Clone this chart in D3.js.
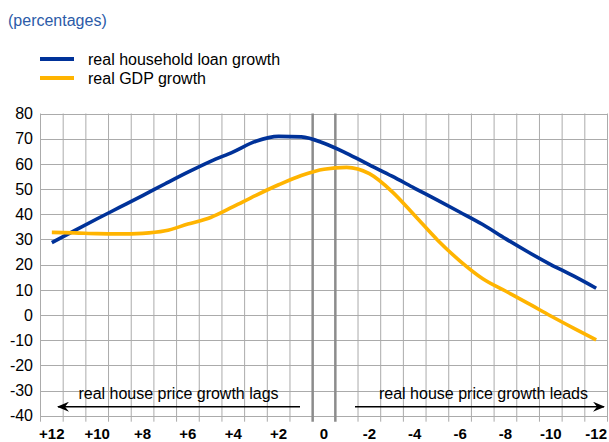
<!DOCTYPE html>
<html lang="en">
<head>
  <meta charset="UTF-8">
  <title>Household loan growth vs GDP growth</title>
  <script src="https://d3js.org/d3.v7.min.js"></script>
  <style>
    body {
      margin: 0;
      background: #fff;
      font-family: "Liberation Sans", Arial, sans-serif;
    }
    .grid line {
      stroke: #ababab;
      stroke-width: 1;
    }
    .grid line.zero {
      stroke: #8c8c8c;
      stroke-width: 2.5;
    }
    .ylab {
      font-size: 16px;
      fill: #000;
    }
    .xlab {
      font-size: 15px;
      font-weight: bold;
      fill: #000;
    }
    .legend text, .note {
      font-size: 16px;
      fill: #000;
    }
  </style>
</head>
<body>
  <div id="chart"></div>
  <script>
    // lags in quarters, +12 (house prices lag) to -12 (house prices lead)
    const lags = ["+12", "+11", "+10", "+9", "+8", "+7", "+6", "+5", "+4", "+3", "+2", "+1", "0",
                  "-1", "-2", "-3", "-4", "-5", "-6", "-7", "-8", "-9", "-10", "-11", "-12"];
    const tickLabels = ["+12", "+10", "+8", "+6", "+4", "+2", "0", "-2", "-4", "-6", "-8", "-10", "-12"];
    const loanGrowth = [28.7, 33.5, 38.2, 42.8, 47.4, 52.1, 56.7, 61.0, 64.8, 69.0, 70.9, 70.7, 68.2,
                        64.2, 59.6, 55.1, 50.3, 45.6, 40.8, 35.9, 30.3, 25.0, 20.0, 15.5, 10.6];
    const gdpGrowth = [32.8, 32.6, 32.3, 32.2, 32.4, 33.4, 36.1, 38.7, 43.0, 47.5, 51.7, 55.4, 57.9,
                       58.6, 56.1, 49.0, 39.5, 29.8, 21.4, 14.4, 9.5, 4.6, -0.4, -5.2, -9.9];
    const yTicks = [80, 70, 60, 50, 40, 30, 20, 10, 0, -10, -20, -30, -40];

    const series = [
      { name: "real household loan growth", values: loanGrowth, color: "#003299" },
      { name: "real GDP growth", values: gdpGrowth, color: "#ffb400" }
    ];

    const width = 609;
    const height = 442;
    const plot = { left: 40.5, right: 607.5, top: 113.5, bottom: 415.7 };

    const svg = d3.select("#chart")
      .append("svg")
      .attr("width", width)
      .attr("height", height);

    const x = d3.scaleBand()
      .domain(lags)
      .range([plot.left, plot.right]);

    const y = d3.scaleLinear()
      .domain([-40, 80])
      .range([plot.bottom, plot.top]);

    // title
    svg.append("text")
      .attr("x", 8)
      .attr("y", 26)
      .style("font-size", "16px")
      .style("fill", "#2b5ba8")
      .text("(percentages)");

    // legend
    const legend = svg.append("g").attr("class", "legend");
    series.forEach((s, i) => {
      const ly = 59 + i * 19;
      legend.append("line")
        .attr("x1", 40).attr("x2", 74)
        .attr("y1", ly).attr("y2", ly)
        .attr("stroke", s.color)
        .attr("stroke-width", 4);
      legend.append("text")
        .attr("x", 88)
        .attr("y", ly + 6)
        .text(s.name);
    });

    // grid
    const grid = svg.append("g").attr("class", "grid");
    const bounds = lags.map(d => x(d)).concat([x.range()[1]]);
    grid.selectAll("line.h")
      .data(yTicks)
      .join("line")
      .attr("class", "h")
      .attr("x1", plot.left).attr("x2", plot.right)
      .attr("y1", d => Math.round(y(d)) + 0.5)
      .attr("y2", d => Math.round(y(d)) + 0.5);
    grid.selectAll("line.v")
      .data(bounds)
      .join("line")
      .attr("class", (d, i) => (i === 12 || i === 13) ? "v zero" : "v")
      .attr("x1", d => d).attr("x2", d => d)
      .attr("y1", plot.top)
      .attr("y2", plot.bottom + 6);

    // y labels
    svg.append("g")
      .selectAll("text")
      .data(yTicks)
      .join("text")
      .attr("class", "ylab")
      .attr("x", 33)
      .attr("y", d => y(d))
      .attr("dy", "0.36em")
      .attr("text-anchor", "end")
      .text(d => d);

    // x labels
    svg.append("g")
      .selectAll("text")
      .data(tickLabels)
      .join("text")
      .attr("class", "xlab")
      .attr("x", d => x(d) + x.bandwidth() / 2)
      .attr("y", 439)
      .attr("text-anchor", "middle")
      .text(d => d);

    // lines
    const line = d3.line()
      .x((d, i) => x(lags[i]) + x.bandwidth() / 2)
      .y(d => y(d))
      .curve(d3.curveMonotoneX);

    svg.append("g")
      .selectAll("path")
      .data(series)
      .join("path")
      .attr("fill", "none")
      .attr("stroke", d => d.color)
      .attr("stroke-width", 3.6)
      .attr("stroke-linejoin", "round")
      .attr("d", d => line(d.values));

    // arrows
    const defs = svg.append("defs");
    defs.append("marker")
      .attr("id", "head")
      .attr("viewBox", "0 0 12 10")
      .attr("refX", 11)
      .attr("refY", 5)
      .attr("markerWidth", 12)
      .attr("markerHeight", 10)
      .attr("markerUnits", "userSpaceOnUse")
      .attr("orient", "auto")
      .append("path")
      .attr("d", "M0,0 L12,5 L0,10 L4,5 Z")
      .attr("fill", "#000");

    const arrowY = 406.7;
    const notes = [
      { text: "real house price growth lags", from: 300, to: 58, tx: 178.5 },
      { text: "real house price growth leads", from: 355, to: 604, tx: 483.5 }
    ];
    notes.forEach(n => {
      svg.append("line")
        .attr("x1", n.from).attr("x2", n.to)
        .attr("y1", arrowY).attr("y2", arrowY)
        .attr("stroke", "#000")
        .attr("stroke-width", 1.5)
        .attr("marker-end", "url(#head)");
      svg.append("text")
        .attr("class", "note")
        .attr("x", n.tx)
        .attr("y", 399)
        .attr("text-anchor", "middle")
        .text(n.text);
    });
  </script>
</body>
</html>
